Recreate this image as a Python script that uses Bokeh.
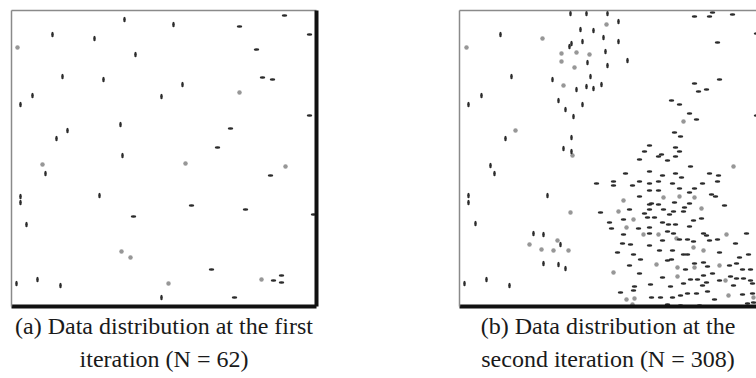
from bokeh.plotting import figure
from bokeh.layouts import row
from bokeh.models import LinearAxis, Title, FixedTicker
from bokeh.embed import file_html
from bokeh.resources import INLINE

# ---------------- data (arbitrary units, panel coordinates) ----------------
# Panel (a): first iteration, N = 62
a_vert_x = [113, 162, 41, 83, 124, 51, 92, 171, 21, 150, 9, 109, 56, 45, 111, 34, 9, 9, 88, 15, 5, 26, 49, 150]
a_vert_y = [287, 282, 272, 268, 252, 230, 227, 222, 211, 210, 202, 182, 176, 168, 151, 133, 110, 104, 111, 82, 23, 27, 21, 9]
a_horz_x = [228, 273, 245, 251, 261, 219, 206, 298, 298, 302, 259, 180, 234, 122, 200, 223, 262, 270, 270]
a_horz_y = [280, 291, 257, 229, 227, 178, 159, 272, 191, 92, 131, 101, 97, 90, 37, 9, 26, 31, 24]
a_grey_x = [6, 228, 31, 174, 274, 110, 119, 157, 250]
a_grey_y = [259, 214, 142, 143, 140, 55, 49, 23, 27]

# Panel (b): second iteration, N = 308
b_vert_x = [111, 127, 148, 159, 41, 121, 134, 144, 159, 123, 112, 110, 146, 128, 148, 168,
            52, 93, 131, 117, 127, 134, 142, 22, 9, 99, 106, 123, 114, 46, 112, 104, 112,
            31, 35, 9, 9, 88, 16, 74, 84, 101, 84, 99, 106, 5, 27, 50]
b_vert_y = [293, 293, 293, 285, 272, 277, 276, 269, 265, 265, 263, 260, 255, 244, 241, 246,
            230, 227, 230, 217, 220, 218, 222, 211, 202, 206, 197, 202, 190, 168, 169, 158, 155,
            141, 133, 111, 104, 111, 83, 73, 72, 62, 43, 42, 38, 23, 27, 21]
b_grey_x = [147, 83, 7, 102, 117, 130, 102, 115, 104, 224, 56, 113, 274, 204, 220, 235, 164,
            111, 159, 242, 174, 167, 184, 199, 267, 98, 70, 82, 94, 109, 217, 234, 244, 197,
            218, 235, 260, 154, 218, 266, 269, 167, 175, 294, 173]
b_grey_y = [282, 268, 259, 253, 254, 252, 245, 239, 221, 185, 176, 151, 140, 109, 110, 109, 106,
            94, 95, 98, 87, 79, 72, 72, 72, 66, 62, 57, 56, 56, 68, 59, 56, 42,
            39, 39, 41, 34, 30, 26, 11, 7, 8, 9, 2]
b_horz_x = [235, 250, 253, 273, 297, 258, 235, 260, 239, 247, 212, 220, 230, 237, 297, 215, 221,
            190, 216, 220, 185, 202, 199, 216, 180, 208, 231, 166, 190, 203, 216, 222, 250, 259,
            258, 137, 154, 154, 173, 180, 190, 199, 213, 220, 235, 243, 190, 199, 180, 230, 252,
            256, 190, 192, 199, 215, 230, 225, 265, 141, 170, 185, 190, 204, 214, 224, 150, 164,
            188, 195, 210, 203, 209, 216, 230, 234, 242, 152, 179, 190, 164, 190, 208, 214, 244,
            247, 287, 163, 171, 190, 203, 220, 228, 234, 250, 258, 276, 158, 174, 200, 213, 224,
            228, 260, 289, 280, 170, 181, 208, 212, 226, 235, 244, 248, 270, 277, 283, 291, 180,
            203, 231, 238, 244, 253, 260, 271, 277, 284, 291, 191, 211, 224, 243, 247, 274, 293,
            161, 174, 175, 192, 201, 213, 221, 228, 237, 248, 283, 293, 255, 181, 208, 221, 240,
            256, 288, 294]
b_horz_y = [290, 290, 294, 292, 273, 264, 223, 227, 215, 217, 206, 202, 193, 187, 191, 174, 170,
            161, 159, 155, 155, 152, 150, 150, 147, 146, 140, 133, 135, 131, 133, 129, 133, 131,
            125, 123, 125, 121, 121, 125, 123, 125, 123, 118, 118, 123, 116, 116, 110, 114, 112,
            110, 102, 103, 102, 104, 103, 99, 101, 94, 97, 93, 97, 97, 95, 95, 84, 87,
            89, 89, 92, 84, 82, 82, 80, 86, 88, 78, 78, 79, 72, 73, 75, 73, 73,
            71, 73, 63, 62, 61, 66, 67, 67, 65, 66, 67, 63, 54, 52, 56, 56, 52,
            52, 54, 52, 49, 41, 47, 46, 47, 37, 43, 44, 40, 41, 43, 37, 37, 33,
            29, 27, 27, 31, 33, 26, 30, 28, 28, 26, 22, 20, 23, 21, 24, 21, 23,
            14, 16, 20, 9, 9, 9, 11, 13, 13, 15, 12, 13, 7, 0, 2, 1, 1,
            0, 3, 4]

captions_a = ["(a) Data distribution at the first", "iteration (N = 62)"]
captions_b = ["(b) Data distribution at the", "second iteration (N = 308)"]

X_MAX = 305
Y_MAX = 296

DARK = "#2b2b2b"
GREY = "#8c8c8c"
FONT = "Liberation Serif"


def add_frame_axes(p, with_right):
    def bare(ax, color, width):
        ax.ticker = FixedTicker(ticks=[])
        ax.axis_line_color = color
        ax.axis_line_width = width
        ax.major_tick_line_color = None
        ax.minor_tick_line_color = None
        ax.major_label_standoff = 0
        ax.major_tick_out = 0
        ax.major_tick_in = 0
        ax.minor_tick_out = 0
        ax.minor_tick_in = 0
        return ax
    p.add_layout(bare(LinearAxis(), "#8a8a8a", 1.5), "left")
    p.add_layout(bare(LinearAxis(), "#8a8a8a", 1.5), "above")
    p.add_layout(bare(LinearAxis(), "#111111", 4), "below")
    if with_right:
        p.add_layout(bare(LinearAxis(), "#111111", 4), "right")


def make_panel(width, x_end, mb_right, vx, vy, hx, hy, gx, gy, caps, with_right):
    p = figure(width=width, height=378, x_range=(0, x_end), y_range=(0, Y_MAX),
               output_backend="svg", toolbar_location=None,
               x_axis_location=None, y_axis_location=None,
               min_border_left=11, min_border_right=mb_right,
               min_border_top=10, min_border_bottom=72)
    p.grid.visible = False
    p.outline_line_color = None
    p.background_fill_color = "white"
    p.border_fill_color = "white"
    add_frame_axes(p, with_right)
    p.ellipse(x=gx, y=gy, width=4.5, height=4.5, width_units="screen", height_units="screen",
              fill_color=GREY, fill_alpha=0.9, line_color=None)
    p.ellipse(x=vx, y=vy, width=2.6, height=5.5, width_units="screen", height_units="screen",
              fill_color=DARK, line_color=None)
    p.ellipse(x=hx, y=hy, width=5.5, height=2.6, width_units="screen", height_units="screen",
              fill_color=DARK, line_color=None)
    for i, c in enumerate(caps):
        t = Title(text=c, align="center", text_font=FONT, text_font_size="24px",
                  text_font_style="normal", text_color="#1a1a1a",
                  standoff=(9 if i == 0 else 0))
        p.add_layout(t, "below")
    return p


pa = make_panel(448, X_MAX, 132, a_vert_x, a_vert_y, a_horz_x, a_horz_y,
                a_grey_x, a_grey_y, captions_a, True)
pb = make_panel(308, 297, 0, b_vert_x, b_vert_y, b_horz_x, b_horz_y,
                b_grey_x, b_grey_y, captions_b, False)

layout = row(pa, pb)
open("out.html", "w").write(file_html(layout, INLINE))
